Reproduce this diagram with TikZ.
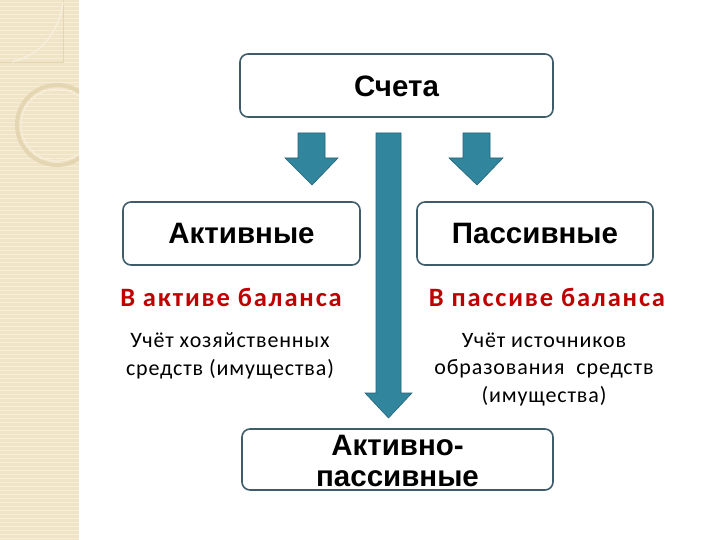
\documentclass[tikz,border=0pt]{standalone}
\usepackage{fontspec}
\setmainfont{Carlito}
\newfontfamily\arialbf{Liberation Sans}[BoldFont={Liberation Sans Bold}]
\newfontfamily\redfont{Carlito}[LetterSpace=7]
\newfontfamily\bodyfont{Carlito}[LetterSpace=4]
\definecolor{stripe}{RGB}{240,228,198}
\definecolor{stripeline}{RGB}{246,238,218}
\definecolor{stripedark}{RGB}{228,214,178}
\definecolor{boxline}{RGB}{62,92,106}
\definecolor{arrowfill}{RGB}{49,133,156}
\definecolor{arrowline}{RGB}{35,100,122}
\definecolor{redtxt}{RGB}{192,0,0}
\tikzset{
  acctbox/.style={draw=boxline, line width=1.6pt, rounded corners=8pt, fill=white, inner sep=0pt},
  boxtext/.style={font=\arialbf\bfseries\fontsize{29.5}{31}\selectfont, align=center},
  redlabel/.style={font=\redfont\bfseries\fontsize{26.5}{30}\selectfont, text=redtxt, anchor=base},
  bodytext/.style={font=\bodyfont\fontsize{22}{27.5}\selectfont, align=center, anchor=base},
  blockarrow/.style={fill=arrowfill, draw=arrowline, line width=0.6pt, line join=miter}
}
\begin{document}
\begin{tikzpicture}[x=1pt,y=-1pt]
\useasboundingbox (0,0) rectangle (720,540);
\fill[white] (0,0) rectangle (720,540);
% left decorative stripe
\fill[stripe] (0,0) rectangle (79,540);
\foreach \yy in {2,6,...,540} {\draw[stripeline, line width=0.5pt] (0,\yy) -- (79,\yy);}
\draw[stripedark, line width=0.8pt] (0,62) -- (63,62) -- (63,0);
\draw[stripeline, line width=1.5pt] (63,2) .. controls (58,35) and (40,55) .. (12,62);
\begin{scope}
  \clip (0,0) rectangle (79,540);
  \draw[stripedark, line width=4pt] (57,125) circle (40);
  \draw[stripeline, line width=1.2pt] (57,125) circle (36);
\end{scope}
% boxes
\node[acctbox, minimum width=313pt, minimum height=63pt] (schet) at (396.5,85.5) {};
\node[boxtext] at ([yshift=-1pt]schet.center) {Счета};
\node[acctbox, minimum width=237pt, minimum height=63pt] (akt) at (241.5,233.5) {};
\node[boxtext] at (akt.center) {Активные};
\node[acctbox, minimum width=236pt, minimum height=63pt] (pas) at (535,233.5) {};
\node[boxtext] at (pas.center) {Пассивные};
\node[acctbox, minimum width=311pt, minimum height=61pt] (ap) at (397.5,459.5) {};
\node[boxtext] at ([yshift=-1pt]ap.center) {Активно-\\пассивные};
% block arrows
\draw[blockarrow] (298,133) -- (325,133) -- (325,158) -- (338,158) -- (312,185) -- (285,158) -- (298,158) -- cycle;
\draw[blockarrow] (463,133) -- (490,133) -- (490,158) -- (503,158) -- (477,185) -- (449,158) -- (463,158) -- cycle;
\draw[blockarrow] (376,133) -- (401,133) -- (401,393) -- (412,393) -- (388.5,418) -- (365,393) -- (376,393) -- cycle;
% texts
\node[redlabel] (lred) at (231,306) {В активе баланса};
\node[redlabel] (rred) at (547,306) {В пассиве баланса};
\node[bodytext] (lbody) at (230,375) {Учёт хозяйственных\\средств (имущества)};
\node[bodytext] (rbody) at (544,402) {Учёт источников\\образования \ средств\\(имущества)};
\end{tikzpicture}
\end{document}
